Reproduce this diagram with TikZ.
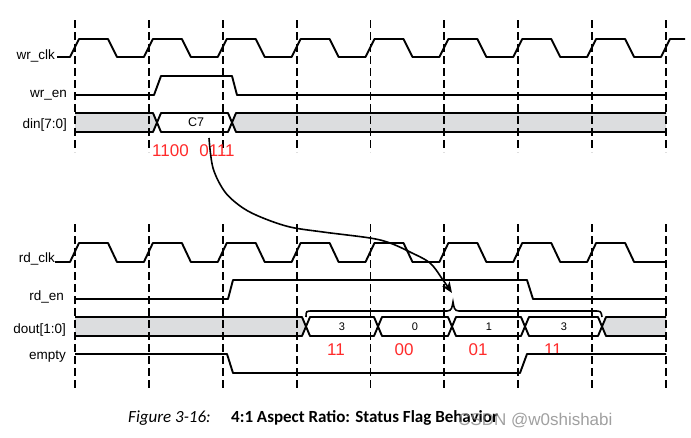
\documentclass[tikz,border=0pt]{standalone}
\usepackage{fontspec}
\setmainfont{Liberation Sans}
\newfontfamily\capfont{Carlito}
\usetikzlibrary{arrows.meta}
\definecolor{busgray}{HTML}{DCDDDF}
\definecolor{bitred}{HTML}{FF2A2A}
\begin{document}
\begin{tikzpicture}[x=1pt,y=-1pt,
  sig/.style={line width=1.9pt, line join=round},
  gridline/.style={line width=1.9pt, dash pattern=on 8pt off 4pt},
  lbl/.style={anchor=base east, font=\fontsize{13.5}{15}\selectfont, inner sep=0pt},
  val/.style={font=\fontsize{11}{13}\selectfont, inner sep=0pt},
  bitlbl/.style={anchor=base, text=bitred, font=\fontsize{17}{19}\selectfont, inner sep=0pt},
]
\useasboundingbox (0,0) rectangle (691,437);

% bus fills
\fill[busgray] (75,113) -- (153,113) -- (157,122.5) -- (153,132) -- (75,132) -- cycle;
\fill[busgray] (666,113) -- (236,113) -- (232,122.5) -- (236,132) -- (666,132) -- cycle;
\fill[busgray] (75,317) -- (302,317) -- (306,326.5) -- (302,336) -- (75,336) -- cycle;
\fill[busgray] (666,317) -- (606,317) -- (602,326.5) -- (606,336) -- (666,336) -- cycle;

% dashed clock grid
\foreach \k in {0,...,8} {
  \draw[gridline] ({75+73.875*\k},20) -- ({75+73.875*\k},152);
  \draw[gridline] ({75+73.875*\k},224) -- ({75+73.875*\k},390);
}

% labels
\node[lbl] (lwrclk) at (55,59) {wr\_clk};
\node[lbl] (lwren) at (67,97) {wr\_en};
\node[lbl] (ldin) at (67,128) {din[7:0]};
\node[lbl] (lrdclk) at (55,262) {rd\_clk};
\node[lbl] (lrden) at (64,300) {rd\_en};
\node[lbl] (ldout) at (66,333) {dout[1:0]};
\node[lbl] (lempty) at (66,359) {empty};

% wr_clk
\draw[sig] (57,57) \foreach \k in {0,...,7}{ -- ({75+73.875*\k-5},57) -- ({75+73.875*\k+4},39) -- ({75+73.875*\k+33},39) -- ({75+73.875*\k+42},57) } -- (661,57) -- (670,39) -- (685,39);
% wr_en
\draw[sig] (75,95) -- (154,95) -- (161,76) -- (232,76) -- (237,95) -- (666,95);
% din
\draw[sig] (75,113) -- (153,113) -- (161,132) -- (228,132) -- (236,113) -- (666,113);
\draw[sig] (75,132) -- (153,132) -- (161,113) -- (228,113) -- (236,132) -- (666,132);
\node[val, font=\fontsize{12.5}{14}\selectfont] (c7) at (196,122.5) {C7};
\node[bitlbl] (b1) at (170.5,156) {1100};
\node[bitlbl] (b2) at (217,156) {0111};

% rd_clk
\draw[sig] (55,262) \foreach \k in {0,...,7}{ -- ({75+73.875*\k-5},262) -- ({75+73.875*\k+4},243) -- ({75+73.875*\k+33},243) -- ({75+73.875*\k+42},262) } -- (666,262);
% rd_en
\draw[sig] (75,299) -- (228,299) -- (233,280) -- (527,280) -- (533,299) -- (666,299);
% dout
\draw[sig] (75,317) -- (302,317) -- (310,336) -- (374,336) -- (382,317) -- (448,317) -- (456,336) -- (521,336) -- (529,317) -- (598,317) -- (606,336) -- (666,336);
\draw[sig] (75,336) -- (302,336) -- (310,317) -- (374,317) -- (382,336) -- (448,336) -- (456,317) -- (521,317) -- (529,336) -- (598,336) -- (606,317) -- (666,317);
\node[val] (d1) at (342,326.5) {3};
\node[val] (d2) at (415,326.5) {0};
\node[val] (d3) at (489,326.5) {1};
\node[val] (d4) at (564,326.5) {3};
\node[bitlbl] (r1) at (336,355) {11};
\node[bitlbl] (r2) at (404,355) {00};
\node[bitlbl] (r3) at (478,355) {01};
\node[bitlbl] (r4) at (553,355) {11};
% empty
\draw[sig] (75,354) -- (227,354) -- (233,373) -- (520,373) -- (527,354) -- (666,354);

% brace over dout
\draw[line width=1.6pt] (306,317) .. controls (306,311) .. (313,311) -- (447,311) .. controls (452,311) and (452,307) .. (453,302) .. controls (454,307) and (454,311) .. (459,311) -- (594,311) .. controls (601,311) .. (602,317);

% curved arrow
\coordinate (astart) at (209,138);
\coordinate (aend) at (452,293);
\draw[line width=1.6pt, -{Stealth[length=11pt,width=9pt,inset=3pt]}] plot[smooth, tension=0.55] coordinates {(astart) (213,168) (225,192) (243,208) (263,218) (290,227) (323,232) (370,238) (390,243) (410,252) (430,263) (443,280) (aend)};

% caption
\node[anchor=base west, inner sep=0pt, font=\capfont\itshape\fontsize{17}{19}\selectfont] (capa) at (128,422) {Figure 3-16:};
\node[anchor=base west, inner sep=0pt, font=\capfont\bfseries\fontsize{17}{19}\selectfont] (capb) at (231,422) {4:1 Aspect Ratio: Status Flag Behavior};
\node[anchor=base west, inner sep=0pt, text=gray, opacity=0.75, font=\fontsize{17}{19}\selectfont] (wm) at (458,425) {CSDN @w0shishabi};
\end{tikzpicture}
\end{document}
